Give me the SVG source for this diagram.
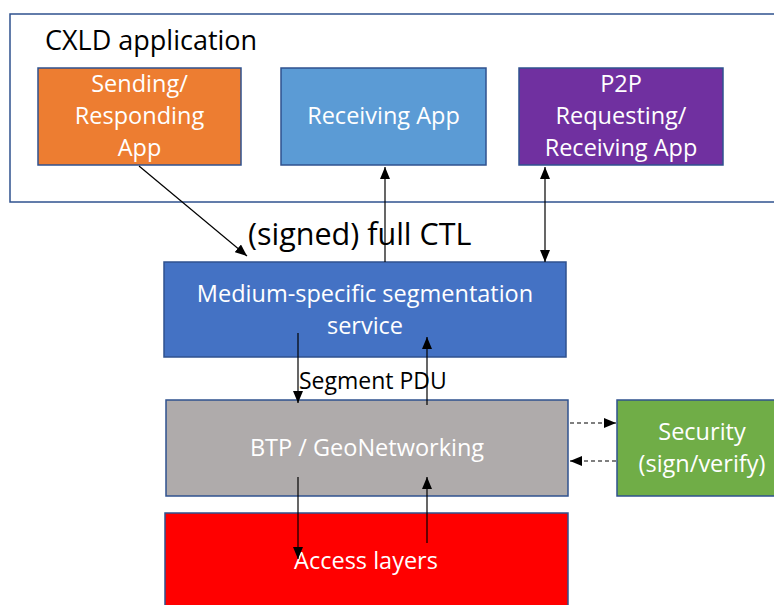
<svg xmlns="http://www.w3.org/2000/svg" width="774" height="605" viewBox="0 0 774 605">
  <style>
    text { font-family: "Open Sans", "Liberation Sans", sans-serif; }
    .box { stroke: #2F528F; stroke-width: 1.5; }
    .lbl { fill: #ffffff; font-size: 23.5px; text-anchor: middle; }
    .dark { fill: #000000; }
    .conn { stroke: #000000; stroke-width: 1.2; fill: none; }
    .dash { stroke-dasharray: 4 3; }
  </style>
  <defs>
    <marker id="arr" viewBox="0 0 12 10" refX="12" refY="5" markerWidth="12" markerHeight="10" markerUnits="userSpaceOnUse" orient="auto-start-reverse">
      <path d="M0,0 L12,5 L0,10 z" fill="#000000"/>
    </marker>
  </defs>
  <rect width="774" height="605" fill="#ffffff"/>

  <g id="cxld-application">
    <rect x="10" y="14" width="770" height="188" fill="#ffffff" class="box"/>
    <text x="45" y="50" class="dark" font-size="27">CXLD application</text>
  </g>

  <g id="sending-app">
    <rect x="38" y="68" width="203" height="97" fill="#ED7D31" class="box"/>
    <text class="lbl"><tspan x="139.5" y="92">Sending/</tspan><tspan x="139.5" y="124">Responding</tspan><tspan x="139.5" y="156">App</tspan></text>
  </g>

  <g id="receiving-app">
    <rect x="281" y="68" width="205" height="97" fill="#5B9BD5" class="box"/>
    <text x="383.5" y="124" class="lbl">Receiving App</text>
  </g>

  <g id="p2p-app">
    <rect x="519" y="68" width="204" height="97" fill="#7030A0" class="box"/>
    <text class="lbl"><tspan x="621" y="92">P2P</tspan><tspan x="621" y="124">Requesting/</tspan><tspan x="621" y="156">Receiving App</tspan></text>
  </g>

  <g id="segmentation-service">
    <rect x="164" y="262" width="402" height="95" fill="#4472C4" class="box"/>
    <text class="lbl"><tspan x="365" y="302">Medium-specific segmentation</tspan><tspan x="365" y="334">service</tspan></text>
  </g>

  <g id="btp-geonetworking">
    <rect x="166" y="400" width="402" height="96" fill="#AFABAB" class="box"/>
    <text x="367" y="456" class="lbl">BTP / GeoNetworking</text>
  </g>

  <g id="security">
    <rect x="617" y="400" width="165" height="96" fill="#70AD47" class="box"/>
    <text class="lbl"><tspan x="702" y="440">Security</tspan><tspan x="702" y="472">(sign/verify)</tspan></text>
  </g>

  <g id="access-layers">
    <rect x="165" y="513" width="403" height="100" fill="#FF0000" class="box"/>
    <text x="366" y="569" class="lbl">Access layers</text>
  </g>

  <g id="labels">
    <text x="248" y="245" class="dark" font-size="30.5">(signed) full CTL</text>
    <text x="299" y="389" class="dark" font-size="23">Segment PDU</text>
  </g>

  <g id="connectors">
    <line x1="139" y1="166" x2="247" y2="256" class="conn" marker-end="url(#arr)"/>
    <line x1="385" y1="262" x2="385" y2="167" class="conn" marker-end="url(#arr)"/>
    <line x1="545" y1="167" x2="545" y2="262" class="conn" marker-start="url(#arr)" marker-end="url(#arr)"/>
    <line x1="298" y1="333" x2="298" y2="403" class="conn" marker-end="url(#arr)"/>
    <line x1="427" y1="405" x2="427" y2="337" class="conn" marker-end="url(#arr)"/>
    <line x1="298" y1="477" x2="298" y2="559" class="conn" marker-end="url(#arr)"/>
    <line x1="427" y1="543" x2="427" y2="477" class="conn" marker-end="url(#arr)"/>
    <line x1="570" y1="423" x2="616" y2="423" class="conn dash" marker-end="url(#arr)"/>
    <line x1="616" y1="461" x2="570" y2="461" class="conn dash" marker-end="url(#arr)"/>
  </g>
</svg>
